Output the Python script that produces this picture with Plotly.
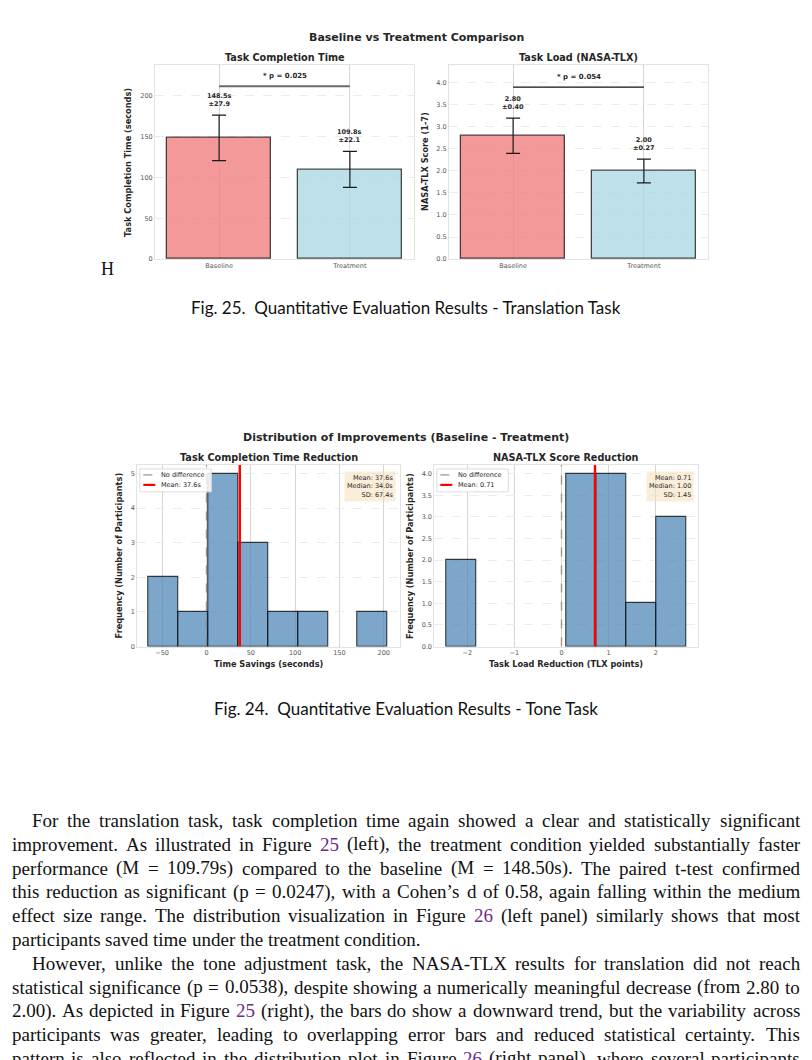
"""
Page replica: Fig. 25 (bar comparison) + Fig. 24 (improvement histograms) + body text
"""

import plotly.graph_objects as go
import numpy as np

# the html page keeps an 8px body margin, so the figure is drawn 8px smaller
# and every page-pixel position below is shifted by that margin
PAGE_W, PAGE_H, OFF = 812, 1060, 8
W, H = PAGE_W - OFF, PAGE_H - OFF

# ---- Fig. 25: translation task, baseline vs treatment ----
conditions = ["Baseline", "Treatment"]
time_means = [148.5, 109.8]
time_sds = [27.9, 22.1]
tlx_means = [2.80, 2.00]
tlx_sds = [0.40, 0.27]
time_p = 0.025
tlx_p = 0.054

# ---- Fig. 24: distribution of improvements (baseline - treatment) ----
time_bin_start = -65.2
time_bin_width = 33.7
time_counts = [2, 1, 5, 3, 1, 1, 0, 1]
time_stats = [37.6, 34.0, 67.4]      # mean, median, sd

tlx_bin_start = -2.45
tlx_bin_width = 0.636
tlx_counts = [2, 0, 0, 0, 4, 4, 1, 3]
tlx_stats = [0.71, 1.00, 1.45]

# ---- body text under the figures ----
body_lines = [
    "For the translation task, task completion time again showed a clear and statistically significant",
    "improvement. As illustrated in Figure 25 (left), the treatment condition yielded substantially faster",
    "performance (M = 109.79s) compared to the baseline (M = 148.50s). The paired t-test confirmed",
    "this reduction as significant (p = 0.0247), with a Cohen’s d of 0.58, again falling within the medium",
    "effect size range. The distribution visualization in Figure 26 (left panel) similarly shows that most",
    "participants saved time under the treatment condition.",
    "However, unlike the tone adjustment task, the NASA-TLX results for translation did not reach",
    "statistical significance (p = 0.0538), despite showing a numerically meaningful decrease (from 2.80 to",
    "2.00). As depicted in Figure 25 (right), the bars do show a downward trend, but the variability across",
    "participants was greater, leading to overlapping error bars and reduced statistical certainty. This",
    "pattern is also reflected in the distribution plot in Figure 26 (right panel), where several participants",
]
indented = [0, 6]
ragged = [5]

SANS = "DejaVu Sans"
DARK = "#262626"
TICK = "#555555"


def px(x):
    return (x - OFF) / W


def py(y):
    return 1 - (y - OFF) / H


# axes boxes in page pixels: (left, top, right, bottom)
boxes = {
    "1": (155, 65, 414, 260),
    "2": (449, 65, 708, 260),
    "3": (137.3, 466.7, 399.7, 649),
    "4": (434.3, 466.7, 697.7, 649),
}

fig = go.Figure()

# ---------- Fig. 25 bars ----------
bar_fill = ["rgba(240,128,128,0.8)", "rgba(173,216,230,0.8)"]
for k, means, sds in [("1", time_means, time_sds), ("2", tlx_means, tlx_sds)]:
    fig.add_trace(go.Bar(
        x=[0, 1], y=means, width=0.8,
        marker=dict(color=bar_fill, line=dict(color="rgba(0,0,0,0.7)", width=1.3)),
        error_y=dict(type="data", array=sds, color="#1a1a1a", thickness=1.2, width=7),
        xaxis="x" + (k if k != "1" else ""), yaxis="y" + (k if k != "1" else ""),
        showlegend=False, hoverinfo="skip",
    ))

# value labels
for i in range(2):
    fig.add_annotation(x=i, y=time_means[i] + time_sds[i], xref="x", yref="y",
                       text=f"<b>{time_means[i]:.1f}s<br>±{time_sds[i]:.1f}</b>",
                       yanchor="bottom", yshift=5, showarrow=False,
                       font=dict(family=SANS, size=6.5, color=DARK))
    fig.add_annotation(x=i, y=tlx_means[i] + tlx_sds[i], xref="x2", yref="y2",
                       text=f"<b>{tlx_means[i]:.2f}<br>±{tlx_sds[i]:.2f}</b>",
                       yanchor="bottom", yshift=5, showarrow=False,
                       font=dict(family=SANS, size=6.5, color=DARK))

# significance brackets
time_sig_y = max(np.add(time_means, time_sds)) * 1.2
tlx_sig_y = max(np.add(tlx_means, tlx_sds)) * 1.22
fig.add_shape(type="line", x0=0, x1=1, y0=time_sig_y, y1=time_sig_y, xref="x", yref="y",
              line=dict(color="#6a6a6a", width=1.8))
fig.add_shape(type="line", x0=0, x1=1, y0=tlx_sig_y, y1=tlx_sig_y, xref="x2", yref="y2",
              line=dict(color="#111111", width=1.2))
fig.add_annotation(x=0.5, y=time_sig_y, xref="x", yref="y", text=f"<b>* p = {time_p:.3f}</b>",
                   yanchor="bottom", yshift=4, showarrow=False,
                   font=dict(family=SANS, size=7, color=DARK))
fig.add_annotation(x=0.5, y=tlx_sig_y, xref="x2", yref="y2", text=f"<b>* p = {tlx_p:.3f}</b>",
                   yanchor="bottom", yshift=4, showarrow=False,
                   font=dict(family=SANS, size=7, color=DARK))

# ---------- Fig. 24 histograms ----------
hist_specs = [
    ("3", time_bin_start, time_bin_width, time_counts, time_stats, 5.25,
     f"Mean: {time_stats[0]:.1f}s", "<br>".join([f"Mean: {time_stats[0]:.1f}s",
                                                 f"Median: {time_stats[1]:.1f}s",
                                                 f"SD: {time_stats[2]:.1f}s"])),
    ("4", tlx_bin_start, tlx_bin_width, tlx_counts, tlx_stats, 4.2,
     f"Mean: {tlx_stats[0]:.2f}", "<br>".join([f"Mean: {tlx_stats[0]:.2f}",
                                               f"Median: {tlx_stats[1]:.2f}",
                                               f"SD: {tlx_stats[2]:.2f}"])),
]

for k, start, width, counts, stats, ytop, mean_label, stats_text in hist_specs:
    centers = start + width * (np.arange(len(counts)) + 0.5)
    edge_w = [1.1 if c > 0 else 0 for c in counts]
    fig.add_trace(go.Bar(
        x=centers, y=counts, width=width,
        marker=dict(color="rgba(70,130,180,0.7)",
                    line=dict(color="rgba(0,0,0,0.75)", width=edge_w)),
        xaxis="x" + k, yaxis="y" + k, showlegend=False, hoverinfo="skip",
    ))
    # no-difference and mean lines
    fig.add_trace(go.Scatter(x=[0, 0], y=[0, ytop], mode="lines", xaxis="x" + k, yaxis="y" + k,
                             line=dict(color="rgba(128,128,128,0.75)", width=1.4, dash="dash"),
                             showlegend=False, hoverinfo="skip"))
    fig.add_trace(go.Scatter(x=[stats[0], stats[0]], y=[0, ytop], mode="lines",
                             xaxis="x" + k, yaxis="y" + k,
                             line=dict(color="#ff0000", width=2.4),
                             showlegend=False, hoverinfo="skip"))

    # hand-drawn legend (matplotlib style, compact)
    l, t, r, b = boxes[k]
    fig.add_shape(type="rect", xref="paper", yref="paper",
                  x0=px(l + 2.5), x1=px(l + 74), y0=py(t + 4), y1=py(t + 27),
                  fillcolor="rgba(255,255,255,0.85)", line=dict(color="#dddddd", width=1))
    fig.add_shape(type="line", xref="paper", yref="paper",
                  x0=px(l + 6), x1=px(l + 18), y0=py(t + 10), y1=py(t + 10),
                  line=dict(color="rgba(128,128,128,0.75)", width=1.4, dash="dash"))
    fig.add_shape(type="line", xref="paper", yref="paper",
                  x0=px(l + 6), x1=px(l + 18), y0=py(t + 20), y1=py(t + 20),
                  line=dict(color="#ff0000", width=2.2))
    for row, label in [(10, "No difference"), (20, mean_label)]:
        fig.add_annotation(x=px(l + 24), y=py(t + row), xref="paper", yref="paper",
                           text=label, xanchor="left", yanchor="middle", showarrow=False,
                           borderpad=0, borderwidth=0,
                           font=dict(family=SANS, size=6.5, color=DARK))

    # statistics box
    fig.add_annotation(x=px(r - 4), y=py(t + 6), xref="paper", yref="paper",
                       text=stats_text, align="right", xanchor="right", yanchor="top",
                       showarrow=False, bgcolor="rgba(245,222,179,0.5)", borderpad=2,
                       font=dict(family=SANS, size=6.5, color=DARK))

# ---------- axes ----------
axis_common = dict(showline=True, mirror=True, linecolor="#e3e3e3", linewidth=1,
                   zeroline=False, ticks="", tickfont=dict(family=SANS, size=6.5, color=TICK))
xgrid = dict(showgrid=True, gridcolor="#d6d6d6", gridwidth=0.8)
ygrid = dict(showgrid=True, gridcolor="#ececec", gridwidth=0.8, griddash="dash")

layout_axes = {}
ranges = {
    "1": ([-0.49, 1.49], [0, 238]),
    "2": ([-0.49, 1.49], [0, 4.41]),
    "3": ([-78, 218], [0, 5.25]),
    "4": ([-2.70, 2.89], [0, 4.2]),
}
for k, (l, t, r, b) in boxes.items():
    name = "" if k == "1" else k
    xa = dict(axis_common, **xgrid, domain=[px(l), px(r)], range=ranges[k][0],
              anchor="y" + name)
    ya = dict(axis_common, **ygrid, domain=[py(b), py(t)], range=ranges[k][1],
              anchor="x" + name)
    layout_axes["xaxis" + name] = xa
    layout_axes["yaxis" + name] = ya

layout_axes["xaxis"].update(tickvals=[0, 1], ticktext=conditions)
layout_axes["xaxis2"].update(tickvals=[0, 1], ticktext=conditions)
layout_axes["yaxis"].update(dtick=50)
layout_axes["yaxis2"].update(dtick=0.5, tickformat=".1f")
layout_axes["xaxis3"].update(dtick=50)
layout_axes["yaxis3"].update(dtick=1)
layout_axes["xaxis4"].update(dtick=1)
layout_axes["yaxis4"].update(dtick=0.5, tickformat=".1f")

fig.update_layout(
    width=W, height=H, margin=dict(l=0, r=0, t=0, b=0),
    paper_bgcolor="white", plot_bgcolor="white",
    bargap=0, showlegend=False,
    **layout_axes,
)


def label(x, y, text, size, bold=True, angle=0, color=DARK, family=SANS):
    fig.add_annotation(x=px(x), y=py(y), xref="paper", yref="paper",
                       text=f"<b>{text}</b>" if bold else text, textangle=angle,
                       showarrow=False, xanchor="center", yanchor="middle",
                       font=dict(family=family, size=size, color=color))


# titles
label(416, 38, "Baseline vs Treatment Comparison", 11)
label(284.5, 58, "Task Completion Time", 9.7)
label(578.5, 58, "Task Load (NASA-TLX)", 9.7)
label(128, 162.5, "Task Completion Time (seconds)", 8.2, angle=-90)
label(425, 162.5, "NASA-TLX Score (1-7)", 8.2, angle=-90)

label(406, 439, "Distribution of Improvements (Baseline - Treatment)", 11)
label(268.5, 459, "Task Completion Time Reduction", 9.7)
label(566, 459, "NASA-TLX Score Reduction", 9.7)
label(118.5, 558, "Frequency (Number of Participants)", 8.2, angle=-90)
label(410, 558, "Frequency (Number of Participants)", 8.2, angle=-90)
label(268.5, 666.5, "Time Savings (seconds)", 8.2)
label(566, 666.5, "Task Load Reduction (TLX points)", 8.2)

# page furniture
CAPTION_FONT = "Lato"
label(107, 270, "H", 18, bold=False, color="#111111", family="Liberation Serif")
label(406, 309, "Fig. 25.&nbsp;&nbsp;Quantitative Evaluation Results - Translation Task", 17,
      bold=False, color="#111111", family=CAPTION_FONT)
label(406, 711, "Fig. 24.&nbsp;&nbsp;Quantitative Evaluation Results - Tone Task", 17,
      bold=False, color="#111111", family=CAPTION_FONT)

# ---------- justified body text (Times metrics = Liberation Serif) ----------
TIMES = {" ": 250, "(": 333, ")": 333, ",": 250, "-": 333, ".": 250, "=": 564, ":": 278,
         "’": 333, "'": 180}
TIMES.update({d: 500 for d in "0123456789"})
TIMES.update(dict(zip("ABCDEFGHIJKLMNOPQRSTUVWXYZ",
                      [722, 667, 667, 722, 611, 556, 722, 722, 333, 389, 722, 611, 889,
                       722, 722, 556, 722, 667, 556, 611, 722, 722, 944, 722, 722, 611])))
TIMES.update(dict(zip("abcdefghijklmnopqrstuvwxyz",
                      [444, 500, 444, 500, 444, 333, 500, 500, 278, 278, 500, 278, 778,
                       500, 500, 500, 500, 333, 389, 278, 500, 500, 722, 500, 500, 444])))

BODY_SIZE = 19
LEFT, RIGHT, INDENT = 11.7, 800, 20
LINE0, LEAD = 823.5, 23.9
LINK = "#6B2D8B"


def tw(s):
    return sum(TIMES.get(c, 500) for c in s) * BODY_SIZE / 1000


for n, line in enumerate(body_lines):
    words = line.split(" ")
    x0 = LEFT + (INDENT if n in indented else 0)
    natural = sum(tw(w) for w in words)
    if n in ragged:
        gap = tw(" ")
    else:
        gap = (RIGHT - x0 - natural) / (len(words) - 1)
    y = LINE0 + LEAD * n
    x = x0
    for w in words:
        fig.add_annotation(x=px(x), y=py(y), xref="paper", yref="paper", text=w,
                           xanchor="left", yanchor="middle", showarrow=False,
                           borderpad=0, borderwidth=0,
                           font=dict(family="Liberation Serif", size=BODY_SIZE,
                                     color=LINK if w in ("25", "26") else "#111111"))
        x += tw(w) + gap

fig.write_html("out.html")
